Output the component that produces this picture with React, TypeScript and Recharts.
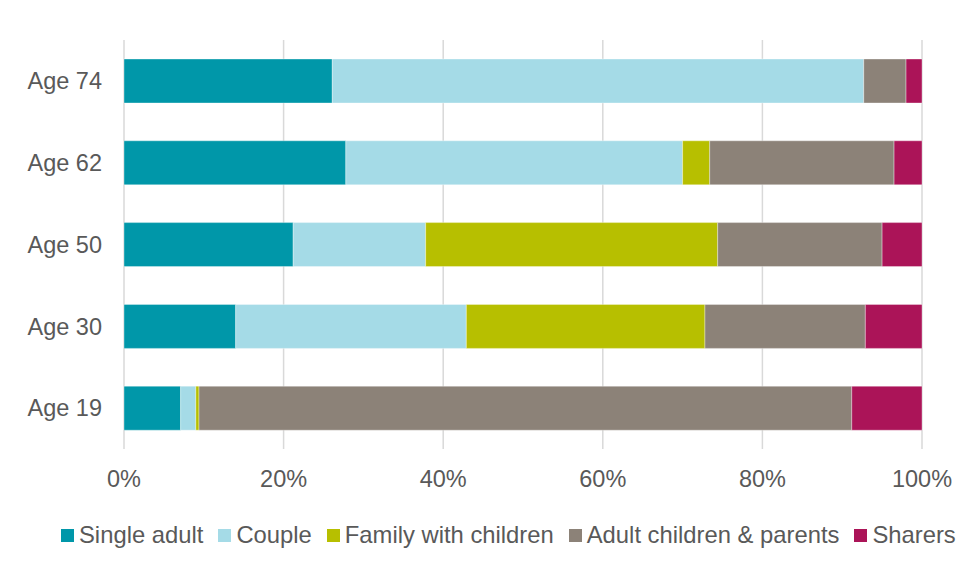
import { BarChart, Bar, XAxis, YAxis, CartesianGrid, Legend } from 'recharts';

const ages = ['Age 74', 'Age 62', 'Age 50', 'Age 30', 'Age 19'];
const singleAdult = [26.1, 27.8, 21.2, 14.0, 7.1];
const couple = [66.6, 42.2, 16.6, 28.9, 1.9];
const familyWithChildren = [0, 3.4, 36.6, 29.9, 0.4];
const adultChildrenParents = [5.3, 23.1, 20.6, 20.1, 81.8];
const sharers = [2.0, 3.5, 5.0, 7.1, 8.8];
const xTicks = [0, 20, 40, 60, 80, 100];

const series = [
    { key: 'Single adult', values: singleAdult, color: '#0097a9' },
    { key: 'Couple', values: couple, color: '#a5dbe7' },
    { key: 'Family with children', values: familyWithChildren, color: '#b7bf00' },
    { key: 'Adult children & parents', values: adultChildrenParents, color: '#8c8278' },
    { key: 'Sharers', values: sharers, color: '#ab1458' },
];

const data = ages.map((age, i) => {
    const row: Record<string, any> = { age };
    series.forEach((s) => {
        row[s.key] = s.values[i];
    });
    return row;
});

const font = '"Liberation Sans", Arial, sans-serif';
const textColor = '#595959';

function LegendContent() {
    return (
        <div style={{ display: 'flex', alignItems: 'center', paddingLeft: 61, whiteSpace: 'nowrap', fontFamily: font, fontSize: 23.8, color: textColor }}>
            {series.map((s) => (
                <div key={s.key} style={{ display: 'flex', alignItems: 'center', flexShrink: 0, marginRight: 15 }}>
                    <span style={{ display: 'inline-block', width: 13, height: 13, background: s.color, marginRight: 5 }} />
                    <span>{s.key}</span>
                </div>
            ))}
        </div>
    );
}

export default function App() {
    return (
        <div style={{ position: 'absolute', left: 0, top: 0, width: 960, height: 580, background: '#fff' }}>
            <BarChart
                width={960}
                height={580}
                layout="vertical"
                data={data}
                margin={{ top: 40, right: 38, left: 0, bottom: 81 }}
            >
                <CartesianGrid horizontal={false} stroke="#d9d9d9" strokeWidth={1.5} />
                <XAxis
                    type="number"
                    domain={[0, 100]}
                    ticks={xTicks}
                    tickFormatter={(v: number) => `${v}%`}
                    axisLine={false}
                    tickLine={false}
                    tickSize={0}
                    tickMargin={21}
                    height={50}
                    tick={{ fill: textColor, fontSize: 23.5, fontFamily: font }}
                />
                <YAxis
                    type="category"
                    dataKey="age"
                    width={124}
                    axisLine={false}
                    tickLine={false}
                    tickSize={0}
                    tickMargin={22}
                    tick={{ fill: textColor, fontSize: 23.5, fontFamily: font }}
                />
                <Legend
                    verticalAlign="middle"
                    layout="horizontal"
                    content={<LegendContent />}
                    wrapperStyle={{ top: 521, left: 0, width: 960 }}
                />
                {series.map((s) => (
                    <Bar
                        key={s.key}
                        dataKey={s.key}
                        stackId="a"
                        fill={s.color}
                        stroke="#ffffff"
                        strokeOpacity={0.35}
                        strokeWidth={1}
                        barSize={44}
                        isAnimationActive={false}
                    />
                ))}
            </BarChart>
        </div>
    );
}
